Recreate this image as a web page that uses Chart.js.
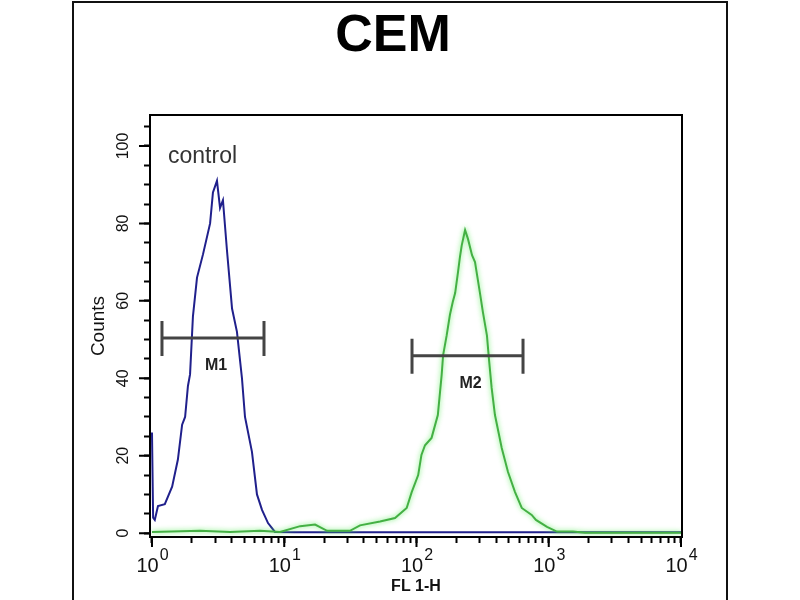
<!DOCTYPE html>
<html><head><meta charset="utf-8">
<script src="https://cdn.jsdelivr.net/npm/chart.js@4.4.1/dist/chart.umd.min.js"></script>
<style>html,body{margin:0;padding:0;background:#fff}#wrap{width:800px;height:600px}</style>
</head><body><div id="wrap"><canvas id="c" width="800" height="600"></canvas></div>
<script>
// ---- text ----
const chartTitle = 'CEM';
const xTitle = 'FL 1-H';
const yTitle = 'Counts';
const controlLabel = 'control';

// ---- tick labels ----
const xTickValues = [1, 10, 100, 1000, 10000];
const xTickBase = ['10', '10', '10', '10', '10'];
const xTickExp = ['0', '1', '2', '3', '4'];
const yTickValues = [0, 20, 40, 60, 80, 100];
const yTickLabels = ['0', '20', '40', '60', '80', '100'];

// ---- control histogram (blue) ----
const controlX = [1.00, 1.02, 1.05, 1.11, 1.25, 1.42, 1.57, 1.69, 1.78, 1.87, 1.94, 2.04, 2.19, 2.43, 2.75, 2.89, 3.10, 3.27, 3.44, 3.69, 4.03, 4.39, 4.79, 5.05, 5.70, 6.22, 6.79, 7.54, 8.51, 12.0, 60.0, 200, 1000, 10000];
const controlY = [26, 4, 3.4, 7, 7.5, 12, 19, 28, 30, 38, 41, 56, 66, 72, 80, 88, 91, 84, 86, 73, 58, 52, 40, 30, 21, 10, 6, 2.6, 0.3, 0.2, 0.2, 0.2, 0.2, 0.2];

// ---- stained sample histogram (green) ----
const sampleX = [1.00, 2.31, 3.89, 6.56, 9.29, 13.2, 17.1, 21.1, 31.4, 37.4, 53.0, 68.8, 84.3, 92, 103, 109, 116, 130, 145, 155, 159, 169, 179, 188, 196, 206, 213, 220, 233, 245, 263, 277, 287, 302, 318, 341, 353, 370, 392, 441, 492, 556, 625, 743, 800, 970, 1153, 1524, 1880, 10000];
const sampleY = [0.3, 0.6, 0.3, 0.6, 0.3, 1.8, 2.2, 0.6, 0.6, 2.0, 3, 3.9, 6.5, 10.6, 15, 20.2, 22.7, 24.6, 30.5, 40.9, 46, 51, 56.4, 59.7, 62, 67.4, 71.3, 74.4, 78.3, 76, 71.8, 70, 66.7, 62, 57, 51, 45, 37.5, 30.5, 22, 15.8, 10.6, 6.5, 4.7, 3.4, 1.6, 0.4, 0.4, 0.1, 0.1];

// ---- markers ----
const markerNames = ['M1', 'M2'];
const markerStart = [1.19, 92.5];
const markerEnd = [7.03, 639];
const markerLevel = [50.4, 45.8];

const minorX = [];
for (let e = 0; e < 4; e++) for (let m = 1; m <= 9; m++) minorX.push(m * Math.pow(10, e));
minorX.push(10000);
const minorY = [];
for (let v = 0; v <= 105; v += 5) minorY.push(v);

const FONT = 'Liberation Sans, Arial, Helvetica, sans-serif';

const decor = {
  id: 'decor',
  beforeDraw(chart) {
    const ctx = chart.ctx;
    ctx.save();
    ctx.fillStyle = '#fff';
    ctx.fillRect(0, 0, chart.width, chart.height);
    ctx.strokeStyle = '#111';
    ctx.lineWidth = 2;
    ctx.strokeRect(73, 2, 654, 640);
    ctx.fillStyle = '#000';
    ctx.font = 'bold 52px ' + FONT;
    ctx.textAlign = 'center';
    ctx.textBaseline = 'middle';
    ctx.fillText(chartTitle, 393, 37);
    ctx.restore();
  },
  beforeDatasetDraw(chart, args) {
    if (args.index === 0) {
      chart.ctx.save();
      chart.ctx.shadowColor = 'rgba(90,235,90,0.9)';
      chart.ctx.shadowBlur = 5;
    }
  },
  afterDatasetDraw(chart, args) {
    if (args.index === 0) chart.ctx.restore();
  },
  afterDraw(chart) {
    const ctx = chart.ctx;
    const a = chart.chartArea;
    const xs = chart.scales.x, ys = chart.scales.y;
    ctx.save();
    // plot box
    ctx.strokeStyle = '#000';
    ctx.lineWidth = 2;
    ctx.strokeRect(a.left, a.top, a.right - a.left, a.bottom - a.top);
    // major ticks
    ctx.beginPath();
    xTickValues.forEach(v => { const px = xs.getPixelForValue(v); ctx.moveTo(px, a.bottom); ctx.lineTo(px, a.bottom + 10); });
    yTickValues.forEach(v => { const py = ys.getPixelForValue(v); ctx.moveTo(a.left, py); ctx.lineTo(a.left - 11, py); });
    ctx.stroke();
    // x tick labels with superscripts
    ctx.fillStyle = '#111';
    ctx.textBaseline = 'alphabetic';
    ctx.textAlign = 'left';
    xTickValues.forEach((v, i) => {
      const px = xs.getPixelForValue(v);
      ctx.font = '20px ' + FONT;
      const w1 = ctx.measureText(xTickBase[i]).width;
      ctx.font = '16px ' + FONT;
      const w2 = ctx.measureText(xTickExp[i]).width;
      const x0 = px - (w1 + w2) / 2;
      ctx.font = '20px ' + FONT;
      ctx.fillText(xTickBase[i], x0, a.bottom + 35);
      ctx.font = '16px ' + FONT;
      ctx.fillText(xTickExp[i], x0 + w1 + 1, a.bottom + 23);
    });
    // y tick labels rotated
    ctx.font = '16px ' + FONT;
    ctx.textAlign = 'center';
    ctx.textBaseline = 'middle';
    yTickValues.forEach((v, i) => {
      const py = ys.getPixelForValue(v);
      ctx.save();
      ctx.translate(124, py);
      ctx.rotate(-Math.PI / 2);
      ctx.fillText(yTickLabels[i], 0, 0);
      ctx.restore();
    });
    // control label
    ctx.font = '23px ' + FONT;
    ctx.fillStyle = '#333';
    ctx.textAlign = 'left';
    ctx.textBaseline = 'alphabetic';
    ctx.fillText(controlLabel, a.left + 18, 163);
    // markers
    ctx.strokeStyle = '#444';
    ctx.fillStyle = '#222';
    ctx.lineWidth = 3;
    ctx.font = 'bold 16px ' + FONT;
    ctx.textAlign = 'center';
    ctx.textBaseline = 'middle';
    markerNames.forEach((n, i) => {
      const x1 = xs.getPixelForValue(markerStart[i]);
      const x2 = xs.getPixelForValue(markerEnd[i]);
      const y = ys.getPixelForValue(markerLevel[i]);
      ctx.beginPath();
      ctx.moveTo(x1, y); ctx.lineTo(x2, y);
      ctx.moveTo(x1, y - 17); ctx.lineTo(x1, y + 18);
      ctx.moveTo(x2, y - 17); ctx.lineTo(x2, y + 18);
      ctx.stroke();
      ctx.fillText(n, (x1 + x2) / 2 + 3, y + 28);
    });
    ctx.restore();
  }
};

new Chart(document.getElementById('c'), {
  type: 'line',
  data: {
    datasets: [
      {
        label: 'sample',
        data: sampleX.map((x, i) => ({x, y: sampleY[i]})),
        borderColor: '#44b044',
        borderWidth: 2,
        pointRadius: 0,
        tension: 0,
        fill: false
      },
      {
        label: 'control',
        data: controlX.map((x, i) => ({x, y: controlY[i]})),
        borderColor: '#20208c',
        borderWidth: 2,
        pointRadius: 0,
        tension: 0,
        fill: false
      }
    ]
  },
  options: {
    responsive: false,
    animation: false,
    devicePixelRatio: 1,
    layout: { padding: { left: 80, right: 118, top: 115, bottom: 0 } },
    plugins: { legend: { display: false }, tooltip: { enabled: false }, title: { display: false } },
    scales: {
      x: {
        type: 'logarithmic',
        min: 0.966,
        max: 10176,
        afterBuildTicks: s => { s.ticks = minorX.map(v => ({value: v})); },
        afterFit: s => { s.height = 63; },
        ticks: { display: false, autoSkip: false },
        grid: { drawOnChartArea: false, drawTicks: true, tickLength: 6, tickColor: '#000', tickWidth: 2 },
        border: { display: true, color: '#000', width: 2 },
        title: { display: true, text: xTitle, color: '#111', font: { family: FONT, size: 16, weight: 'bold' }, padding: { top: 0, bottom: 4 } }
      },
      y: {
        type: 'linear',
        min: -1,
        max: 108,
        afterBuildTicks: s => { s.ticks = minorY.map(v => ({value: v})); },
        afterFit: s => { s.width = 70; },
        ticks: { display: false },
        grid: { drawOnChartArea: false, drawTicks: true, tickLength: 6, tickColor: '#000', tickWidth: 2 },
        border: { display: true, color: '#000', width: 2 },
        title: { display: true, text: yTitle, color: '#111', font: { family: FONT, size: 19 }, padding: { top: 7, bottom: 0 } }
      }
    }
  },
  plugins: [decor]
});
</script>
</body></html>
